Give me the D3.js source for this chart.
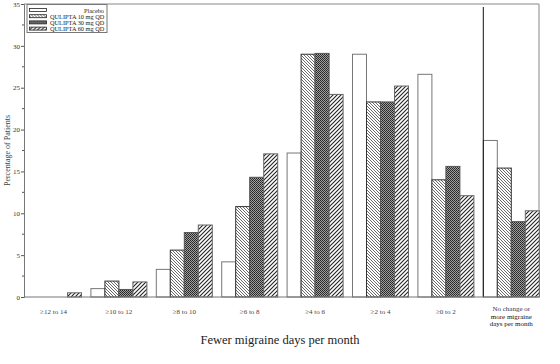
<!DOCTYPE html>
<html>
<head>
<meta charset="utf-8">
<script src="https://cdn.jsdelivr.net/npm/d3@7"></script>
<style>
  body { margin: 0; background: #fff; }
  svg { display: block; font-family: "Liberation Serif", "Times New Roman", serif; }
</style>
</head>
<body>
<svg></svg>
<script>
// chart data
var categories = ["≥12 to 14", "≥10 to 12", "≥8 to 10", "≥6 to 8", "≥4 to 6", "≥2 to 4", "≥0 to 2", "No change or|more migraine|days per month"];
var seriesNames = ["Placebo", "QULIPTA 10 mg QD", "QULIPTA 30 mg QD", "QULIPTA 60 mg QD"];
var placebo = [0, 1.0, 3.3, 4.2, 17.2, 29.0, 26.6, 18.7];
var q10 = [0, 1.9, 5.6, 10.8, 29.0, 23.3, 14.0, 15.4];
var q30 = [0, 0.9, 7.7, 14.3, 29.1, 23.3, 15.6, 9.0];
var q60 = [0.5, 1.8, 8.6, 17.1, 24.2, 25.2, 12.1, 10.3];
var yTicks = [0, 5, 10, 15, 20, 25, 30, 35];

var width = 560, height = 364;
var plotLeft = 24, plotRight = 539, plotTop = 4, plotBottom = 297;
var step = 65.4; // width of one category

var svg = d3.select('svg')
            .attr('width', width)
            .attr('height', height);

var defs = svg.append('defs');

// 10 mg: fine \\\ hatch
var p10 = defs.append('pattern').attr('id', 'p10')
  .attr('patternUnits', 'userSpaceOnUse').attr('width', 3).attr('height', 3);
p10.append('rect').attr('width', 3).attr('height', 3).attr('fill', '#fff');
p10.append('path').attr('d', 'M0,0L3,3M-1,2L1,4M2,-1L4,1')
  .attr('stroke', '#444').attr('stroke-width', 0.8);

// 30 mg: dark dithered
var p30 = defs.append('pattern').attr('id', 'p30')
  .attr('patternUnits', 'userSpaceOnUse').attr('width', 2).attr('height', 2);
p30.append('rect').attr('width', 2).attr('height', 2).attr('fill', '#a0a0a0');
p30.append('rect').attr('width', 1).attr('height', 1).attr('fill', '#222');
p30.append('rect').attr('x', 1).attr('y', 1).attr('width', 1).attr('height', 1).attr('fill', '#333');

// 60 mg: /// hatch
var p60 = defs.append('pattern').attr('id', 'p60')
  .attr('patternUnits', 'userSpaceOnUse').attr('width', 4).attr('height', 4);
p60.append('rect').attr('width', 4).attr('height', 4).attr('fill', '#fff');
p60.append('path').attr('d', 'M0,4L4,0M-1,1L1,-1M3,5L5,3')
  .attr('stroke', '#222').attr('stroke-width', 1.1);

var fills = ['#fff', 'url(#p10)', 'url(#p30)', 'url(#p60)'];
var strokes = ['#777', '#333', '#555', '#666'];
var series = [placebo, q10, q30, q60];

var xScale = d3.scaleBand()
               .domain(categories)
               .range([plotLeft, plotLeft + step * categories.length])
               .paddingInner(0).paddingOuter(0);

var inner = d3.scaleBand()
              .domain(d3.range(4))
              .range([1.5, 57.5]);

var yScale = d3.scaleLinear()
               .domain([0, 35])
               .range([plotBottom, plotTop]);

// frame
svg.append('path')
   .attr('d', `M${plotLeft},${plotTop}H${plotRight}V${plotBottom}`)
   .attr('fill', 'none')
   .attr('stroke', '#888');

// bars
series.forEach(function(vals, si) {
  svg.append('g').selectAll('rect')
    .data(vals)
    .enter()
      .append('rect')
      .attr('x', (d, i) => xScale(categories[i]) + inner(si))
      .attr('y', d => yScale(d))
      .attr('width', inner.bandwidth())
      .attr('height', d => plotBottom - yScale(d))
      .attr('fill', fills[si])
      .attr('stroke', d => d > 0 ? strokes[si] : 'none')
      .attr('stroke-width', 1);
});

// separator before last group
var sepX = xScale(categories[7]) + inner(0);
svg.append('line')
   .attr('x1', sepX).attr('x2', sepX)
   .attr('y1', plotTop + 3).attr('y2', plotBottom)
   .attr('stroke', '#111');

// y axis
var yAxis = d3.axisLeft(yScale).tickValues(yTicks).tickSize(3).tickFormat(d3.format('d'));
var gy = svg.append('g')
   .attr('transform', `translate(${plotLeft},0)`)
   .call(yAxis);
gy.select('.domain').attr('stroke', '#777');
gy.selectAll('.tick line').attr('stroke', '#555');
gy.selectAll('.tick text').attr('font-size', 7).attr('font-family', '"Liberation Serif", serif').attr('fill', '#333').attr('x', -4);
// minor ticks
svg.append('g').selectAll('line')
   .data(yTicks.slice(0, -1).map(d => d + 2.5))
   .enter()
     .append('line')
     .attr('x1', plotLeft - 2).attr('x2', plotLeft)
     .attr('y1', d => yScale(d)).attr('y2', d => yScale(d))
     .attr('stroke', '#555');

// x axis line
svg.append('line')
   .attr('x1', plotLeft).attr('x2', plotRight)
   .attr('y1', plotBottom).attr('y2', plotBottom)
   .attr('stroke', '#777');

// x labels
var xl = svg.append('g').selectAll('text')
   .data(categories)
   .enter()
     .append('text')
     .attr('x', d => xScale(d) + inner(0) + inner.bandwidth() * 2)
     .attr('y', 314)
     .attr('text-anchor', 'middle')
     .attr('font-size', 7)
     .attr('fill', '#444');
xl.each(function(d) {
  var parts = d.split('|');
  var t = d3.select(this);
  if (parts.length > 1) t.attr('y', 311);
  parts.forEach(function(p, i) {
    t.append('tspan')
     .attr('x', t.attr('x'))
     .attr('dy', i === 0 ? 0 : 7.5)
     .attr('fill', parts.length > 1 ? (i === 0 ? '#33335a' : '#111') : '#444')
     .text(p);
  });
});

// axis titles
svg.append('text')
   .attr('x', 280).attr('y', 344)
   .attr('text-anchor', 'middle')
   .attr('font-size', 12.5)
   .attr('fill', '#222')
   .text('Fewer migraine days per month');

svg.append('text')
   .attr('transform', 'translate(10,' + ((plotTop + plotBottom) / 2) + ') rotate(-90)')
   .attr('text-anchor', 'middle')
   .attr('font-size', 8)
   .attr('fill', '#444')
   .text('Percentage of Patients');

// legend
var lg = svg.append('g').attr('transform', 'translate(27,4.5)');
lg.append('rect')
  .attr('width', 80).attr('height', 28)
  .attr('fill', '#fff').attr('stroke', '#777');
seriesNames.forEach(function(name, i) {
  var yy = 6 + i * 6.2;
  lg.append('rect')
    .attr('x', 2.5).attr('y', yy - 2)
    .attr('width', 17).attr('height', 3)
    .attr('fill', fills[i]).attr('stroke', '#222').attr('stroke-width', 0.8);
  lg.append('text')
    .attr('x', i === 0 ? 77 : 23)
    .attr('y', yy + 2.3)
    .attr('text-anchor', i === 0 ? 'end' : 'start')
    .attr('font-size', 6.3)
    .attr('fill', '#222')
    .text(name);
});
</script>
</body>
</html>
